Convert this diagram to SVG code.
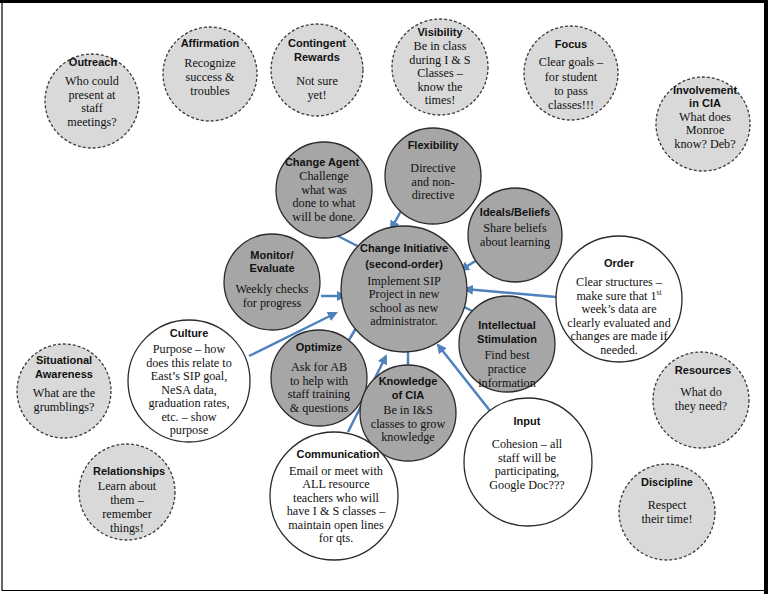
<svg xmlns="http://www.w3.org/2000/svg" width="768" height="594" viewBox="0 0 768 594">
<style>
.dash{fill:#d9d9d9;stroke:#3a3a3a;stroke-width:1.3;stroke-dasharray:3 2}
.gray{fill:#a6a6a6;stroke:#2b2b2b;stroke-width:1.3}
.white{fill:#ffffff;stroke:#2b2b2b;stroke-width:1.3}
.t{font-family:"Liberation Sans",Arial,sans-serif;font-weight:bold;font-size:11px;fill:#111;text-anchor:middle}
.b{font-family:"Liberation Serif","Times New Roman",serif;font-size:12.2px;fill:#111;text-anchor:middle}
.arr{stroke:#4f81bd;stroke-width:2.5;fill:none;marker-end:url(#ah)}
</style>
<defs>
<marker id="ah" viewBox="0 0 10 10" refX="8" refY="5" markerWidth="4" markerHeight="4" orient="auto" markerUnits="strokeWidth">
<path d="M0,0 L10,5 L0,10 z" fill="#4f81bd"/>
</marker>
</defs>
<rect x="0" y="0" width="768" height="594" fill="#ffffff"/>
<g id="frame">
<rect x="0" y="0" width="768" height="3" fill="#000"/>
<rect x="764" y="0" width="4" height="594" fill="#000"/>
<line x1="2" y1="0" x2="2" y2="591" stroke="#000" stroke-width="1.2"/>
<line x1="2" y1="590.5" x2="766" y2="590.5" stroke="#000" stroke-width="1.2"/>
</g>

<g id="connectors">
<line class="arr" x1="336" y1="235" x2="373" y2="254"/>
<line class="arr" x1="401" y1="211" x2="391" y2="229"/>
<line class="arr" x1="477" y1="260" x2="461" y2="270"/>
<line class="arr" x1="556" y1="297" x2="465" y2="289"/>
<line class="arr" x1="472" y1="311" x2="453" y2="301"/>
<line class="arr" x1="321" y1="296" x2="345" y2="296"/>
<line class="arr" x1="249" y1="356" x2="336" y2="313"/>
<line class="arr" x1="349" y1="340" x2="362" y2="318"/>
<line class="arr" x1="348" y1="432" x2="386" y2="356"/>
<line class="arr" x1="408" y1="366" x2="408" y2="342"/>
<line class="arr" x1="491" y1="412" x2="438" y2="345"/>
</g>

<g id="outreach">
<circle class="dash" cx="92" cy="101" r="47"/>
<text class="t" x="93" y="66">Outreach</text>
<text class="b" x="92" y="85">Who could</text>
<text class="b" x="92" y="98.5">present at</text>
<text class="b" x="92" y="112">staff</text>
<text class="b" x="92" y="125.5">meetings?</text>
</g>

<g id="affirmation">
<circle class="dash" cx="210" cy="74" r="47"/>
<text class="t" x="210" y="47">Affirmation</text>
<text class="b" x="210" y="67">Recognize</text>
<text class="b" x="210" y="81">success &amp;</text>
<text class="b" x="210" y="95">troubles</text>
</g>

<g id="contingent">
<circle class="dash" cx="317" cy="70" r="46"/>
<text class="t" x="317" y="47">Contingent</text>
<text class="t" x="317" y="61">Rewards</text>
<text class="b" x="317" y="85">Not sure</text>
<text class="b" x="317" y="99">yet!</text>
</g>

<g id="visibility">
<circle class="dash" cx="440" cy="67" r="48"/>
<text class="t" x="440" y="36">Visibility</text>
<text class="b" x="440" y="50">Be in class</text>
<text class="b" x="440" y="63.5">during I &amp; S</text>
<text class="b" x="440" y="77">Classes –</text>
<text class="b" x="440" y="90.5">know the</text>
<text class="b" x="440" y="104">times!</text>
</g>

<g id="focus">
<circle class="dash" cx="571" cy="73" r="47"/>
<text class="t" x="571" y="48">Focus</text>
<text class="b" x="571" y="66">Clear goals –</text>
<text class="b" x="571" y="80.5">for student</text>
<text class="b" x="571" y="95">to pass</text>
<text class="b" x="571" y="109">classes!!!</text>
</g>

<g id="involvement">
<circle class="dash" cx="703" cy="124" r="47"/>
<text class="t" x="705" y="94">Involvement</text>
<text class="t" x="705" y="107">in CIA</text>
<text class="b" x="705" y="120.5">What does</text>
<text class="b" x="705" y="134">Monroe</text>
<text class="b" x="705" y="147.5">know?  Deb?</text>
</g>

<g id="situational">
<circle class="dash" cx="64" cy="391" r="47"/>
<text class="t" x="64" y="364">Situational</text>
<text class="t" x="64" y="378">Awareness</text>
<text class="b" x="64" y="397">What are the</text>
<text class="b" x="64" y="411">grumblings?</text>
</g>

<g id="relationships">
<circle class="dash" cx="127" cy="492" r="48"/>
<text class="t" x="129" y="475">Relationships</text>
<text class="b" x="127" y="490">Learn about</text>
<text class="b" x="127" y="504">them –</text>
<text class="b" x="127" y="518">remember</text>
<text class="b" x="127" y="532">things!</text>
</g>

<g id="resources">
<circle class="dash" cx="701" cy="400" r="48"/>
<text class="t" x="703" y="374">Resources</text>
<text class="b" x="701" y="396">What do</text>
<text class="b" x="701" y="410">they need?</text>
</g>

<g id="discipline">
<circle class="dash" cx="667" cy="512" r="48"/>
<text class="t" x="667" y="486">Discipline</text>
<text class="b" x="667" y="509">Respect</text>
<text class="b" x="667" y="523">their time!</text>
</g>

<g id="change-agent">
<circle class="gray" cx="324" cy="190" r="48"/>
<text class="t" x="322" y="166">Change Agent</text>
<text class="b" x="324" y="180">Challenge</text>
<text class="b" x="324" y="193.5">what was</text>
<text class="b" x="324" y="207">done to what</text>
<text class="b" x="324" y="220.5">will be done.</text>
</g>

<g id="flexibility">
<circle class="gray" cx="433" cy="176" r="48"/>
<text class="t" x="433" y="149">Flexibility</text>
<text class="b" x="433" y="172">Directive</text>
<text class="b" x="433" y="185.5">and non-</text>
<text class="b" x="433" y="199">directive</text>
</g>

<g id="ideals">
<circle class="gray" cx="515" cy="235" r="47"/>
<text class="t" x="515" y="216">Ideals/Beliefs</text>
<text class="b" x="515" y="232">Share beliefs</text>
<text class="b" x="515" y="246">about learning</text>
</g>

<g id="monitor">
<circle class="gray" cx="272" cy="282" r="48"/>
<text class="t" x="272" y="259">Monitor/</text>
<text class="t" x="272" y="272">Evaluate</text>
<text class="b" x="272" y="293">Weekly checks</text>
<text class="b" x="272" y="307">for progress</text>
</g>

<g id="change-initiative">
<circle class="gray" cx="404" cy="289" r="63"/>
<text class="t" x="404" y="252">Change Initiative</text>
<text class="t" x="404" y="268">(second-order)</text>
<text class="b" x="404" y="284.5">Implement SIP</text>
<text class="b" x="404" y="298">Project in new</text>
<text class="b" x="404" y="311.5">school as new</text>
<text class="b" x="404" y="325">administrator.</text>
</g>

<g id="intellectual">
<circle class="gray" cx="507" cy="344" r="48"/>
<text class="t" x="507" y="329">Intellectual</text>
<text class="t" x="507" y="343">Stimulation</text>
<text class="b" x="507" y="359">Find best</text>
<text class="b" x="507" y="373">practice</text>
<text class="b" x="507" y="387">information</text>
</g>

<g id="optimize">
<circle class="gray" cx="319" cy="378" r="48"/>
<text class="t" x="319" y="351">Optimize</text>
<text class="b" x="319" y="371">Ask for AB</text>
<text class="b" x="319" y="384.5">to help with</text>
<text class="b" x="319" y="398">staff training</text>
<text class="b" x="319" y="411.5">&amp; questions</text>
</g>

<g id="knowledge">
<circle class="gray" cx="408" cy="413" r="48"/>
<text class="t" x="408" y="385">Knowledge</text>
<text class="t" x="408" y="399">of CIA</text>
<text class="b" x="408" y="414">Be in I&amp;S</text>
<text class="b" x="408" y="427.5">classes to grow</text>
<text class="b" x="408" y="441">knowledge</text>
</g>

<g id="order">
<circle class="white" cx="619" cy="299" r="63"/>
<text class="t" x="619" y="267">Order</text>
<text class="b" x="619" y="286">Clear structures –</text>
<text class="b" x="619" y="299.5">make sure that 1<tspan font-size="7.5" dy="-5">st</tspan></text>
<text class="b" x="619" y="313">week’s data are</text>
<text class="b" x="619" y="326.5">clearly evaluated and</text>
<text class="b" x="619" y="340">changes are made if</text>
<text class="b" x="619" y="353.5">needed.</text>
</g>

<g id="culture">
<circle class="white" cx="189" cy="381" r="61"/>
<text class="t" x="189" y="337">Culture</text>
<text class="b" x="189" y="353">Purpose – how</text>
<text class="b" x="189" y="366.5">does this relate to</text>
<text class="b" x="189" y="380">East’s SIP goal,</text>
<text class="b" x="189" y="393.5">NeSA data,</text>
<text class="b" x="189" y="407">graduation rates,</text>
<text class="b" x="189" y="420.5">etc. – show</text>
<text class="b" x="189" y="434">purpose</text>
</g>

<g id="communication">
<circle class="white" cx="334" cy="496" r="64"/>
<text class="t" x="338" y="458">Communication</text>
<text class="b" x="336" y="474.5">Email or meet with</text>
<text class="b" x="336" y="488">ALL resource</text>
<text class="b" x="336" y="501.5">teachers who will</text>
<text class="b" x="336" y="515">have I &amp; S classes –</text>
<text class="b" x="336" y="528.5">maintain open lines</text>
<text class="b" x="336" y="542">for qts.</text>
</g>

<g id="input">
<circle class="white" cx="528" cy="462" r="64"/>
<text class="t" x="527" y="425">Input</text>
<text class="b" x="527" y="448">Cohesion – all</text>
<text class="b" x="527" y="461.5">staff will be</text>
<text class="b" x="527" y="475">participating,</text>
<text class="b" x="527" y="488.5">Google Doc???</text>
</g>
</svg>
